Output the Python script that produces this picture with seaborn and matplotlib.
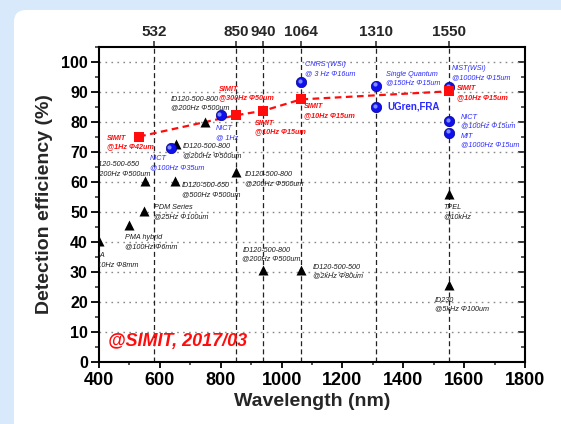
"""
plot.py — detection efficiency of single-photon detectors vs wavelength
"""
import matplotlib
matplotlib.use("Agg")
import matplotlib.pyplot as plt
import matplotlib.ticker as mticker
from matplotlib.patches import FancyBboxPatch
from matplotlib.transforms import offset_copy
import pandas as pd
import seaborn as sns

sns.set_theme(style="ticks")
plt.rcParams["font.family"] = ["Liberation Sans", "DejaVu Sans"]

RED   = "#ff0d0d"
BLUE  = "#1010ee"
TBLUE = "#2a2aff"
BLACK = "#1a1a1a"

# SIMIT SNSPD (red squares + dashed line)
simit_wl  = [532, 850, 940, 1064, 1550]
simit_de  = [75.2, 82.3, 83.8, 87.6, 90.3]
simit_txt = ["SIMIT\n@1Hz Φ42um", "SIMIT\n@300Hz Φ50um", "SIMIT\n@10Hz Φ15um",
             "SIMIT\n@10Hz Φ15um", "SIMIT\n@10Hz Φ15um"]

# other SNSPDs (blue spheres)
snspd_wl  = [635, 800, 1064, 1310, 1310, 1550, 1550, 1550]
snspd_de  = [71.3, 82.3, 93.3, 92.2, 85.1, 91.6, 80.4, 76.5]
snspd_txt = ["NICT\n@100Hz Φ35um", "NICT\n@ 1Hz", "CNRS (WSi)\n@ 3 Hz Φ16um",
             "Single Quantum\n@150Hz Φ15um", "UGren,FRA", "NIST(WSi)\n@1000Hz Φ15um",
             "NICT\n@100Hz Φ15um", "MIT\n@1000Hz Φ15um"]

# commercial detectors (black triangles)
spad_wl  = [400, 497, 548, 551, 650, 652, 748, 850, 940, 1064, 1550, 1550]
spad_de  = [40.3, 45.6, 50.2, 60.3, 60.3, 72.6, 80.2, 63.3, 30.7, 30.7, 55.9, 25.7]
spad_txt = ["PMA\n@10Hz Φ8mm", "PMA hybrid\n@100Hz Φ6mm", "PDM Series\n@25Hz Φ100um",
            "ID120-500-650\n@200Hz Φ500um", "ID120-500-650\n@500Hz Φ500um",
            "ID120-500-800\n@200Hz Φ500um", "ID120-500-800\n@200Hz Φ500um",
            "ID120-500-800\n@200Hz Φ500um", "ID120-500-800\n@200Hz Φ500um",
            "ID120-500-500\n@2kHz Φ80um", "TPEL\n@10kHz", "ID230\n@5kHz Φ100um"]

# top axis: reference wavelengths (532 line sits where the original drew it)
top_pos    = [580, 850, 940, 1064, 1310, 1550]
top_labels = ["532", "850", "940", "1064", "1310", "1550"]

# label offsets in pixels from the marker (dx, dy, va)
simit_off = [(-32, 2, "top"), (-17, 14, "bottom"), (-8, -9, "top"), (3, -4, "top"), (8, 6, "top")]
snspd_off = [(-21, -7, "top"), (-5, -10, "top"), (4, 21, "top"), (10, 15, "top"),
             (11, 0, "center"), (3, 22, "top"), (12, 7, "top"), (12, 0, "top")]
spad_off  = [(-9, -11, "top"), (-4, -9, "top"), (10, 7, "top"), (-53, 20, "top"),
             (7, -1, "top"), (7, 1, "top"), (-34, 10, "bottom"), (9, 1, "top"),
             (-21, 23, "top"), (12, 6, "top"), (-6, -10, "top"), (-14, -12, "top")]

simit = pd.DataFrame({"wl": simit_wl, "de": simit_de})
snspd = pd.DataFrame({"wl": snspd_wl, "de": snspd_de})
spad  = pd.DataFrame({"wl": spad_wl, "de": spad_de})

fig = plt.figure(figsize=(5.61, 4.24), dpi=100)
fig.patch.set_facecolor("#d7e9fb")
panel = FancyBboxPatch((0.14, -0.3), 6.0, 4.44, boxstyle="round,pad=0,rounding_size=0.12",
                       transform=fig.dpi_scale_trans, facecolor="white", edgecolor="none", zorder=0)
fig.add_artist(panel)

ax = fig.add_axes([99 / 561, 62.3 / 424, 426 / 561, 314.4 / 424])
ax.set_facecolor("white")

# reference lines + grid
for p in top_pos:
    ax.axvline(p, color="#222222", lw=0.9, ls=(0, (4, 2.5)), zorder=1)
ax.yaxis.set_major_locator(mticker.MultipleLocator(10))
ax.yaxis.set_minor_locator(mticker.MultipleLocator(5))
ax.xaxis.set_major_locator(mticker.MultipleLocator(200))
ax.xaxis.set_minor_locator(mticker.MultipleLocator(100))
ax.grid(axis="y", which="major", color="#8a8a8a", lw=1.0, ls=(0, (1.2, 3.1)), zorder=1)
ax.grid(axis="x", visible=False)

sns.lineplot(data=simit, x="wl", y="de", color=RED, lw=1.6, sort=False, ax=ax, zorder=2)
ax.lines[-1].set_linestyle((0, (3, 2)))
sns.scatterplot(data=spad, x="wl", y="de", marker="^", s=52, color="black", linewidth=0, ax=ax, zorder=3)
sns.scatterplot(data=snspd, x="wl", y="de", marker="o", s=56, color=BLUE, edgecolor="#00008a",
                linewidth=0.5, ax=ax, zorder=3)
hl = offset_copy(ax.transData, fig=fig, x=-1.3, y=1.3, units="dots")
ax.scatter(snspd["wl"], snspd["de"], s=9, color="#7d8cff", linewidth=0, transform=hl, zorder=3.5)
sns.scatterplot(data=simit, x="wl", y="de", marker="s", s=44, color=RED, linewidth=0, ax=ax, zorder=4)

small = dict(fontsize=5.2, linespacing=1.35, style="italic", textcoords="offset pixels",
             ha="left", clip_on=True, zorder=5)
for x, y, t, (dx, dy, va) in zip(simit_wl, simit_de, simit_txt, simit_off):
    ax.annotate(t, (x, y), xytext=(dx, dy), va=va, color=RED, fontweight="bold", **small)
for x, y, t, (dx, dy, va) in zip(snspd_wl, snspd_de, snspd_txt, snspd_off):
    if t == "UGren,FRA":
        ax.annotate(t, (x, y), xytext=(dx, dy), textcoords="offset pixels", va=va, ha="left",
                    color=TBLUE, fontsize=7, fontweight="bold", zorder=5)
    else:
        ax.annotate(t, (x, y), xytext=(dx, dy), va=va, color=TBLUE, **small)
for x, y, t, (dx, dy, va) in zip(spad_wl, spad_de, spad_txt, spad_off):
    ax.annotate(t, (x, y), xytext=(dx, dy), va=va, color=BLACK, **small)

ax.text(430, 6.6, "@SIMIT, 2017/03", color=RED, fontsize=13, fontweight="bold",
        style="italic", va="center", ha="left", zorder=5)

ax.set_xlim(400, 1800)
ax.set_ylim(0, 105)
ax.set_xlabel("Wavelength (nm)", fontsize=14, fontweight="bold", labelpad=3)
ax.set_ylabel("Detection efficiency (%)", fontsize=14, fontweight="bold", labelpad=6)
for sp in ax.spines.values():
    sp.set_visible(True)
    sp.set_color("black")
    sp.set_linewidth(1.5)
ax.tick_params(axis="x", which="major", direction="out", length=4.5, width=1.3,
               labelsize=13, pad=3, top=False, colors="black")
ax.tick_params(axis="x", which="minor", direction="out", length=2.5, width=1.1, top=False)
ax.tick_params(axis="y", which="major", direction="out", length=6, width=1.3,
               labelsize=11.5, pad=2, right=False, colors="black")
ax.tick_params(axis="y", which="minor", direction="out", length=3, width=1.1, right=False)
for lab in ax.get_xticklabels() + ax.get_yticklabels():
    lab.set_fontweight("bold")

top = ax.secondary_xaxis("top")
top.set_xticks(top_pos, labels=top_labels)
top.xaxis.set_minor_locator(mticker.NullLocator())
top.tick_params(direction="out", length=4, width=1.1, labelsize=11, pad=2)
for lab in top.get_xticklabels():
    lab.set_fontweight("bold")

right = ax.secondary_yaxis("right")
right.yaxis.set_major_locator(mticker.MultipleLocator(10))
right.yaxis.set_minor_locator(mticker.MultipleLocator(5))
right.tick_params(which="major", direction="in", length=5, width=1.3, labelright=False)
right.tick_params(which="minor", direction="in", length=3, width=1.1)

fig.savefig("out.png", dpi=100)
